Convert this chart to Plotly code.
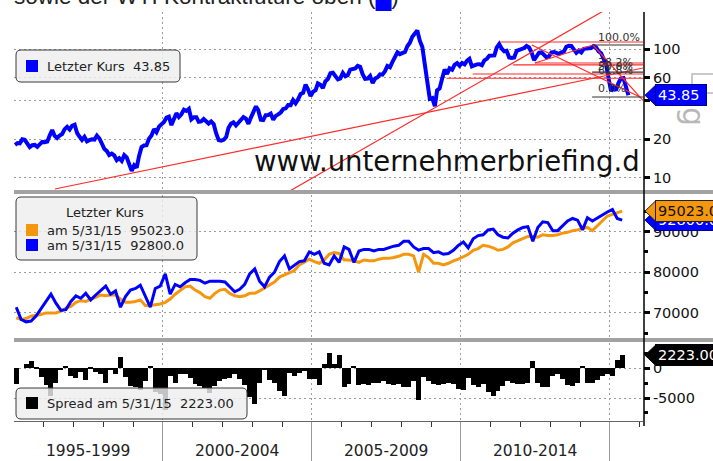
import math
import pandas as pd
import plotly.graph_objects as go
from plotly.subplots import make_subplots

# ------------------------------------------------------------------ data
# WTI front-month, monthly (Jan 1995 .. Aug 2015)
wti_prices = [
    18.0, 18.6, 18.5, 19.9, 19.7, 18.4, 17.3, 17.9, 18.0, 17.4, 18.0, 19.0,
    18.9, 19.1, 21.3, 23.5, 21.2, 20.4, 21.3, 21.9, 23.9, 24.9, 23.7, 25.4,
    25.9, 22.2, 20.9, 19.7, 20.8, 19.2, 19.6, 19.9, 19.8, 21.3, 20.2, 18.3,
    16.7, 16.1, 15.0, 15.4, 14.9, 13.7, 14.2, 13.5, 15.0, 14.4, 12.9, 11.3,
    12.5, 12.0, 14.7, 17.3, 17.8, 17.9, 20.1, 21.3, 23.9, 22.6, 25.0, 26.1,
    27.2, 29.4, 29.9, 25.7, 28.8, 31.8, 29.7, 31.2, 33.9, 33.1, 34.4, 28.5,
    29.6, 29.6, 27.2, 27.4, 28.6, 27.6, 26.4, 27.4, 26.2, 22.2, 19.6, 19.4,
    19.7, 20.7, 24.4, 26.3, 27.0, 25.5, 26.9, 28.4, 29.7, 28.9, 26.3, 29.4,
    32.9, 35.9, 33.6, 28.3, 28.1, 30.7, 30.8, 31.6, 28.3, 30.3, 31.1, 32.2,
    34.3, 34.7, 36.8, 36.7, 40.3, 38.0, 40.7, 44.9, 45.9, 53.1, 48.5, 43.3,
    46.8, 48.0, 54.3, 53.0, 49.8, 56.3, 58.7, 65.0, 65.6, 62.4, 58.3, 59.4,
    65.5, 61.6, 62.7, 69.4, 70.8, 70.9, 74.4, 73.0, 63.8, 58.9, 59.1, 61.9,
    54.5, 59.3, 60.4, 63.9, 63.5, 67.5, 74.1, 72.4, 79.9, 85.8, 94.8, 91.7,
    93.0, 95.4, 105.5, 112.6, 125.4, 133.9, 140.0, 116.7, 104.1, 76.6, 57.3, 41.1,
    41.7, 36.0, 47.9, 49.6, 59.0, 69.6, 64.2, 71.1, 69.4, 75.7, 78.0, 74.5,
    78.3, 76.4, 81.2, 84.3, 73.7, 75.3, 76.3, 76.6, 75.2, 81.9, 84.3, 89.2,
    89.6, 89.6, 102.9, 110.0, 101.3, 96.3, 97.3, 86.3, 85.5, 86.3, 97.2, 98.6,
    100.3, 102.2, 106.2, 103.3, 94.7, 82.3, 87.9, 94.1, 94.5, 89.5, 86.5, 87.9,
    94.8, 95.3, 92.9, 92.0, 94.5, 95.8, 104.6, 106.6, 106.3, 100.5, 93.9, 97.6,
    94.6, 100.8, 100.8, 102.1, 102.2, 105.8, 103.6, 96.5, 93.2, 84.4, 75.8, 59.3,
    47.2, 50.6, 47.8, 54.5, 59.3, 59.8, 50.9, 43.85,
]
wti_first_month = "1995-01-01"

# middle panel, every second month-end (Jan 1995 .. May 2015)
series_orange = [
    68800, 68400, 68600, 69200, 69400, 69600,
    70000, 70000, 70000, 70400, 71200, 71600,
    72600, 73000, 72800, 73400, 73800, 74400,
    74200, 74400, 74400, 73400, 72600, 72600,
    72800, 73200, 71800, 71800, 72000, 72200,
    72600, 73400, 74600, 75400, 76400, 76600,
    75600, 75000, 74000, 73600, 74800, 75600,
    75800, 74800, 74200, 74000, 74200, 74800,
    74800, 75400, 76200, 76800, 77600, 78800,
    79400, 80000, 80400, 81800, 82400, 83200,
    82600, 82200, 83000, 84400, 84800, 84600,
    83000, 83000, 82800, 82400, 83000, 82800,
    82800, 83200, 83400, 83400, 83600, 83900,
    84400, 84400, 84000, 80000, 84400, 83600,
    82200, 82200, 81800, 82200, 82800, 83200,
    83800, 84400, 85400, 85800, 86600, 86400,
    86000, 85400, 85600, 86200, 87200, 87800,
    88400, 88800, 88800, 88600, 89200, 89000,
    89000, 89200, 89600, 89800, 90200, 90400,
    90800, 91000, 90200, 91400, 92800, 93800,
    94200, 94600, 95023,
]
series_blue = [
    71400, 68400, 67800, 68000, 69200, 71000,
    72800, 74600, 72400, 70600, 70800, 72800,
    74200, 73600, 74800, 73200, 74400, 75400,
    76600, 74600, 75400, 71400, 74000, 75600,
    76000, 76800, 74000, 71400, 76000, 76600,
    79600, 74600, 77000, 76400, 77400, 78200,
    78200, 78000, 77300, 77800, 77800, 77800,
    77600, 76400, 75200, 75800, 77000, 79600,
    80800, 77800, 76400, 78800, 80000, 82600,
    84000, 80800, 81600, 82600, 82800, 85000,
    84400, 85000, 82200, 81800, 84000, 82400,
    86200, 85600, 82400, 85200, 85600, 85600,
    85200, 85600, 85600, 86000, 86400, 86600,
    87600, 87600, 86200, 85400, 85800, 85800,
    84800, 85000, 84400, 84600, 85400, 86600,
    87400, 86000, 88200, 89000, 89200, 90400,
    90600, 89200, 88600, 88400, 89600, 90400,
    91000, 91200, 87600, 91000, 92400, 92200,
    90200, 90200, 91400, 92600, 93200, 92800,
    90400, 93400, 92600, 93400, 94000, 94800,
    95400, 93200, 92800,
]
series_first_month = "1995-01-01"

period_labels = ["1995-1999", "2000-2004", "2005-2009", "2010-2014"]
period_mid_dates = ["1997-07-02", "2002-07-02", "2007-07-02", "2012-07-02"]

price_ticks = [10, 20, 40, 60, 100]
price_tick_text = ["10", "20", "", "60", "100"]
level_ticks = [70000, 80000, 90000]
spread_ticks = [-5000, 0]

# drawn chart-analysis lines (top panel)
trend_long_dates = ["1996-05-18", "2016-02-10"]
trend_long_prices = [8.17, 71.5]
trend_steep_dates = ["2004-04-05", "2014-10-31"]
trend_steep_prices = [7.88, 202.0]
swing_up_dates = ["2012-06-25", "2014-06-06"]
swing_up_prices = [78.2, 108.0]
swing_down1_dates = ["2012-05-19", "2016-01-04"]
swing_down1_prices = [108.0, 42.5]
swing_down2_dates = ["2014-06-06", "2016-02-10"]
swing_down2_prices = [108.0, 40.0]
support_levels = [114.0, 75.7, 78.2, 64.2, 59.5]
support_start_dates = ["2011-04-29", "2011-10-04", "2012-06-25", "2010-05-25", "2009-07-08"]
fib_grid_levels = [108.0, 66.5, 42.5]
fib_grid_start = "2014-05-27"
fib_labels = ["100.0%", "38.2%", "50.0%", "61.8%", "0.0%"]
fib_label_prices = [123.6, 79.6, 74.1, 68.9, 49.1]
fib_label_date = "2014-07-12"

x_start, x_end = "1995-01-03", "2016-02-10"

# ------------------------------------------------------------------ derived
wti_dates = pd.date_range(wti_first_month, periods=len(wti_prices), freq="MS") + pd.Timedelta(days=14)
series_dates = pd.date_range(series_first_month, periods=len(series_blue), freq="2MS") + pd.offsets.MonthEnd(0)
spread_values = [o - b for o, b in zip(series_orange, series_blue)]
last = series_dates[-1]
last_txt = f"{last.month}/{last.day}/{last.year % 100:02d}"

# ------------------------------------------------------------------ geometry helpers
W, H = 713, 461
PL, PR, PT, PB = 14, 643, 12, 421


def fx(px):
    return (px - PL) / (PR - PL)


def fy(py):
    return (PB - py) / (PB - PT)


FONT = "DejaVu Sans"
BLUE = "#0000ff"
ORANGE = "#f5960f"
RED = "#ff2a2a"
GRID = "#9c9c9c"

fig = make_subplots(rows=3, cols=1, shared_xaxes=True, vertical_spacing=0.01)

# top panel
fig.add_trace(go.Scatter(x=wti_dates, y=wti_prices, mode="lines",
                         line=dict(color=BLUE, width=4), hoverinfo="skip"), row=1, col=1)


def add_line(xs, ys, color=RED, width=1.2):
    fig.add_trace(go.Scatter(x=xs, y=ys, mode="lines", line=dict(color=color, width=width),
                             hoverinfo="skip"), row=1, col=1)


add_line(trend_long_dates, trend_long_prices)
add_line(trend_steep_dates, trend_steep_prices)
add_line(swing_up_dates, swing_up_prices)
add_line(swing_down1_dates, swing_down1_prices)
add_line(swing_down2_dates, swing_down2_prices)
for lvl, start in zip(support_levels, support_start_dates):
    add_line([start, x_end], [lvl, lvl])
for lvl in fib_grid_levels:
    add_line([fib_grid_start, x_end], [lvl, lvl], color="#333333", width=1.2)

# middle panel
fig.add_trace(go.Scatter(x=series_dates, y=series_orange, mode="lines",
                         line=dict(color=ORANGE, width=3), hoverinfo="skip"), row=2, col=1)
fig.add_trace(go.Scatter(x=series_dates, y=series_blue, mode="lines",
                         line=dict(color=BLUE, width=3), hoverinfo="skip"), row=2, col=1)

# bottom panel
fig.add_trace(go.Bar(x=series_dates, y=spread_values, width=61 * 86400000,
                     marker=dict(color="black", line=dict(width=0)), hoverinfo="skip"), row=3, col=1)

# ------------------------------------------------------------------ axes
fig.update_xaxes(range=[x_start, x_end], showgrid=True, gridcolor=GRID, griddash="2px,3px",
                 gridwidth=1, tick0="2000-01-01", dtick="M60", zeroline=False,
                 showticklabels=False, ticks="", automargin=False)
fig.update_xaxes(row=3, col=1, ticks="outside", ticklen=40, tickcolor="#9a9a9a", tickwidth=1,
                 showline=True, linecolor="#666666", linewidth=1,
                 minor=dict(ticks="outside", ticklen=5, tickcolor="#333333", tickwidth=1,
                            dtick="M12", tick0="1995-01-01", showgrid=False))

yax_common = dict(side="right", showgrid=True, gridcolor=GRID, griddash="2px,3px", gridwidth=1,
                  zeroline=False, ticks="outside", ticklen=6, tickwidth=3, tickcolor="black",
                  tickfont=dict(family=FONT, size=14.5, color="#111111"), showline=False,
                  automargin=False)
fig.update_layout(
    yaxis=dict(domain=[fy(190), 1.0], type="log", range=[0.9042, 2.2905],
               tickmode="array", tickvals=price_ticks, ticktext=price_tick_text, **yax_common),
    yaxis2=dict(domain=[fy(338), fy(195)], range=[63830, 98970], tickmode="array",
                tickvals=level_ticks, ticktext=[str(v) for v in level_ticks],
                minor=dict(ticks="outside", ticklen=4, tickcolor="black", dtick=5000, tick0=0,
                           showgrid=False), **yax_common),
    yaxis3=dict(domain=[0.0, fy(343)], range=[-8884, 4290], tickmode="array",
                tickvals=spread_ticks, ticktext=[str(v) for v in spread_ticks],
                minor=dict(ticks="outside", ticklen=4, tickcolor="black", dtick=2500, tick0=0,
                           showgrid=False), **yax_common),
)

# ------------------------------------------------------------------ decorations
shapes = []
annotations = []


def rrect(x0, y0, x1, y1, r=5):
    p = [
        f"M {fx(x0 + r)},{fy(y0)}", f"L {fx(x1 - r)},{fy(y0)}",
        f"Q {fx(x1)},{fy(y0)} {fx(x1)},{fy(y0 + r)}", f"L {fx(x1)},{fy(y1 - r)}",
        f"Q {fx(x1)},{fy(y1)} {fx(x1 - r)},{fy(y1)}", f"L {fx(x0 + r)},{fy(y1)}",
        f"Q {fx(x0)},{fy(y1)} {fx(x0)},{fy(y1 - r)}", f"L {fx(x0)},{fy(y0 + r)}",
        f"Q {fx(x0)},{fy(y0)} {fx(x0 + r)},{fy(y0)}", "Z",
    ]
    return " ".join(p)


def box(x0, y0, x1, y1):
    shapes.append(dict(type="path", xref="paper", yref="paper", path=rrect(x0, y0, x1, y1),
                       fillcolor="rgba(238,238,238,0.82)", line=dict(color="#3a3a3a", width=1),
                       layer="above"))


def swatch(x0, y0, color, size=12):
    shapes.append(dict(type="rect", xref="paper", yref="paper", x0=fx(x0), x1=fx(x0 + size),
                       y0=fy(y0 + size), y1=fy(y0), fillcolor=color, line=dict(width=0),
                       layer="above"))


def text(px, py, s, size=13, color="#222222", anchor="left", **kw):
    annotations.append(dict(xref="paper", yref="paper", x=fx(px), y=fy(py), text=s,
                            showarrow=False, xanchor=anchor, yanchor="middle",
                            font=dict(family=kw.pop("family", FONT), size=size, color=color), **kw))


# separators and right axis line
for y0, y1 in [(190, 194), (338, 342)]:
    shapes.append(dict(type="rect", xref="paper", yref="paper", x0=0, x1=fx(W),
                       y0=fy(y1), y1=fy(y0), fillcolor="#a2a2a2", line=dict(width=0), layer="above"))
shapes.append(dict(type="line", xref="paper", yref="paper", x0=fx(644), x1=fx(644),
                   y0=fy(426), y1=1.0, line=dict(color="black", width=1.5), layer="above"))

# legends
box(16, 50, 180, 82)
swatch(26, 60, BLUE)
text(45, 66.5, f"Letzter Kurs\u00a0\u00a0{wti_prices[-1]:.2f}", size=13)

box(16, 197, 197, 260)
text(105, 212, "Letzter Kurs", size=13, anchor="center")
swatch(26, 224, ORANGE)
text(45, 230, f"am {last_txt}\u00a0\u00a0{series_orange[-1]:.1f}", size=13)
swatch(26, 239, BLUE)
text(45, 245, f"am {last_txt}\u00a0\u00a0{series_blue[-1]:.1f}", size=13)

box(16, 388, 247, 419)
swatch(26, 397, "black")
text(45, 403.5, f"Spread am {last_txt}\u00a0\u00a0{spread_values[-1]:.2f}", size=13)

# watermark and clipped headline
text(447, 161, "www.unternehmerbriefing.d", size=27.5, color="#111111", anchor="center")
annotations.append(dict(xref="paper", yref="paper", x=fx(12), y=fy(13), xanchor="left",
                        yanchor="bottom", showarrow=False,
                        text="sowie der WTI Kontraktfuture oben (<span style='color:#0000ff'>█</span>)",
                        font=dict(family="Liberation Sans", size=22.5, color="#222222")))

# faint rotated mark at right
shapes.append(dict(type="rect", xref="paper", yref="paper", x0=fx(692), x1=fx(716),
                   y0=fy(93), y1=fy(74), line=dict(color="#b8b8b8", width=1.5),
                   fillcolor="rgba(0,0,0,0)", layer="above"))
text(693, 116, "g", size=30, color="#b8b8b8", anchor="center", textangle=90)

# fib labels
for lab, pr in zip(fib_labels, fib_label_prices):
    annotations.append(dict(xref="x", yref="y", x=fib_label_date, y=math.log10(pr), text=lab,
                            showarrow=False, xanchor="left", yanchor="middle",
                            font=dict(family=FONT, size=11, color="#333333")))

# period labels below the axis
for lab, d in zip(period_labels, period_mid_dates):
    annotations.append(dict(xref="x3", yref="paper", x=d, y=fy(451), text=lab, showarrow=False,
                            xanchor="center", yanchor="middle",
                            font=dict(family=FONT, size=15.5, color="#222222")))


# value tags on the right axis
def tag(yref, value, ypos, label, bg, fg, border):
    shapes.append(dict(type="path", xref="paper", yref=yref, xsizemode="pixel", ysizemode="pixel",
                       xanchor=fx(644), yanchor=value, path="M 1,0 L 12,10.5 L 12,-10.5 Z",
                       fillcolor=bg, line=dict(color=border, width=1), layer="above"))
    annotations.append(dict(xref="paper", yref=yref, x=fx(644), xshift=11, y=ypos, xanchor="left",
                            yanchor="middle", text=label, showarrow=False, bgcolor=bg,
                            bordercolor=border, borderwidth=1, borderpad=2,
                            font=dict(family=FONT, size=14.5, color=fg)))


tag("y", wti_prices[-1], math.log10(wti_prices[-1]), f"{wti_prices[-1]:.2f}\u00a0", BLUE, "white", "#00008b")
tag("y2", series_blue[-1], series_blue[-1], f"{series_blue[-1]:.1f}", BLUE, "white", "#00008b")
tag("y2", series_orange[-1], series_orange[-1], f"{series_orange[-1]:.1f}", ORANGE, "#111111", "#222222")
tag("y3", spread_values[-1], spread_values[-1], f"{spread_values[-1]:.2f}", "black", "white", "black")

fig.update_layout(
    width=W, height=H, margin=dict(l=PL, r=W - PR, t=PT, b=H - PB, autoexpand=False),
    paper_bgcolor="white", plot_bgcolor="white", showlegend=False, bargap=0,
    font=dict(family=FONT, size=13, color="#111111"),
    shapes=shapes, annotations=annotations,
)

fig.write_html("out.html", config={"displayModeBar": False},
               post_script="document.body.style.margin='0';document.body.style.overflow='hidden';")
